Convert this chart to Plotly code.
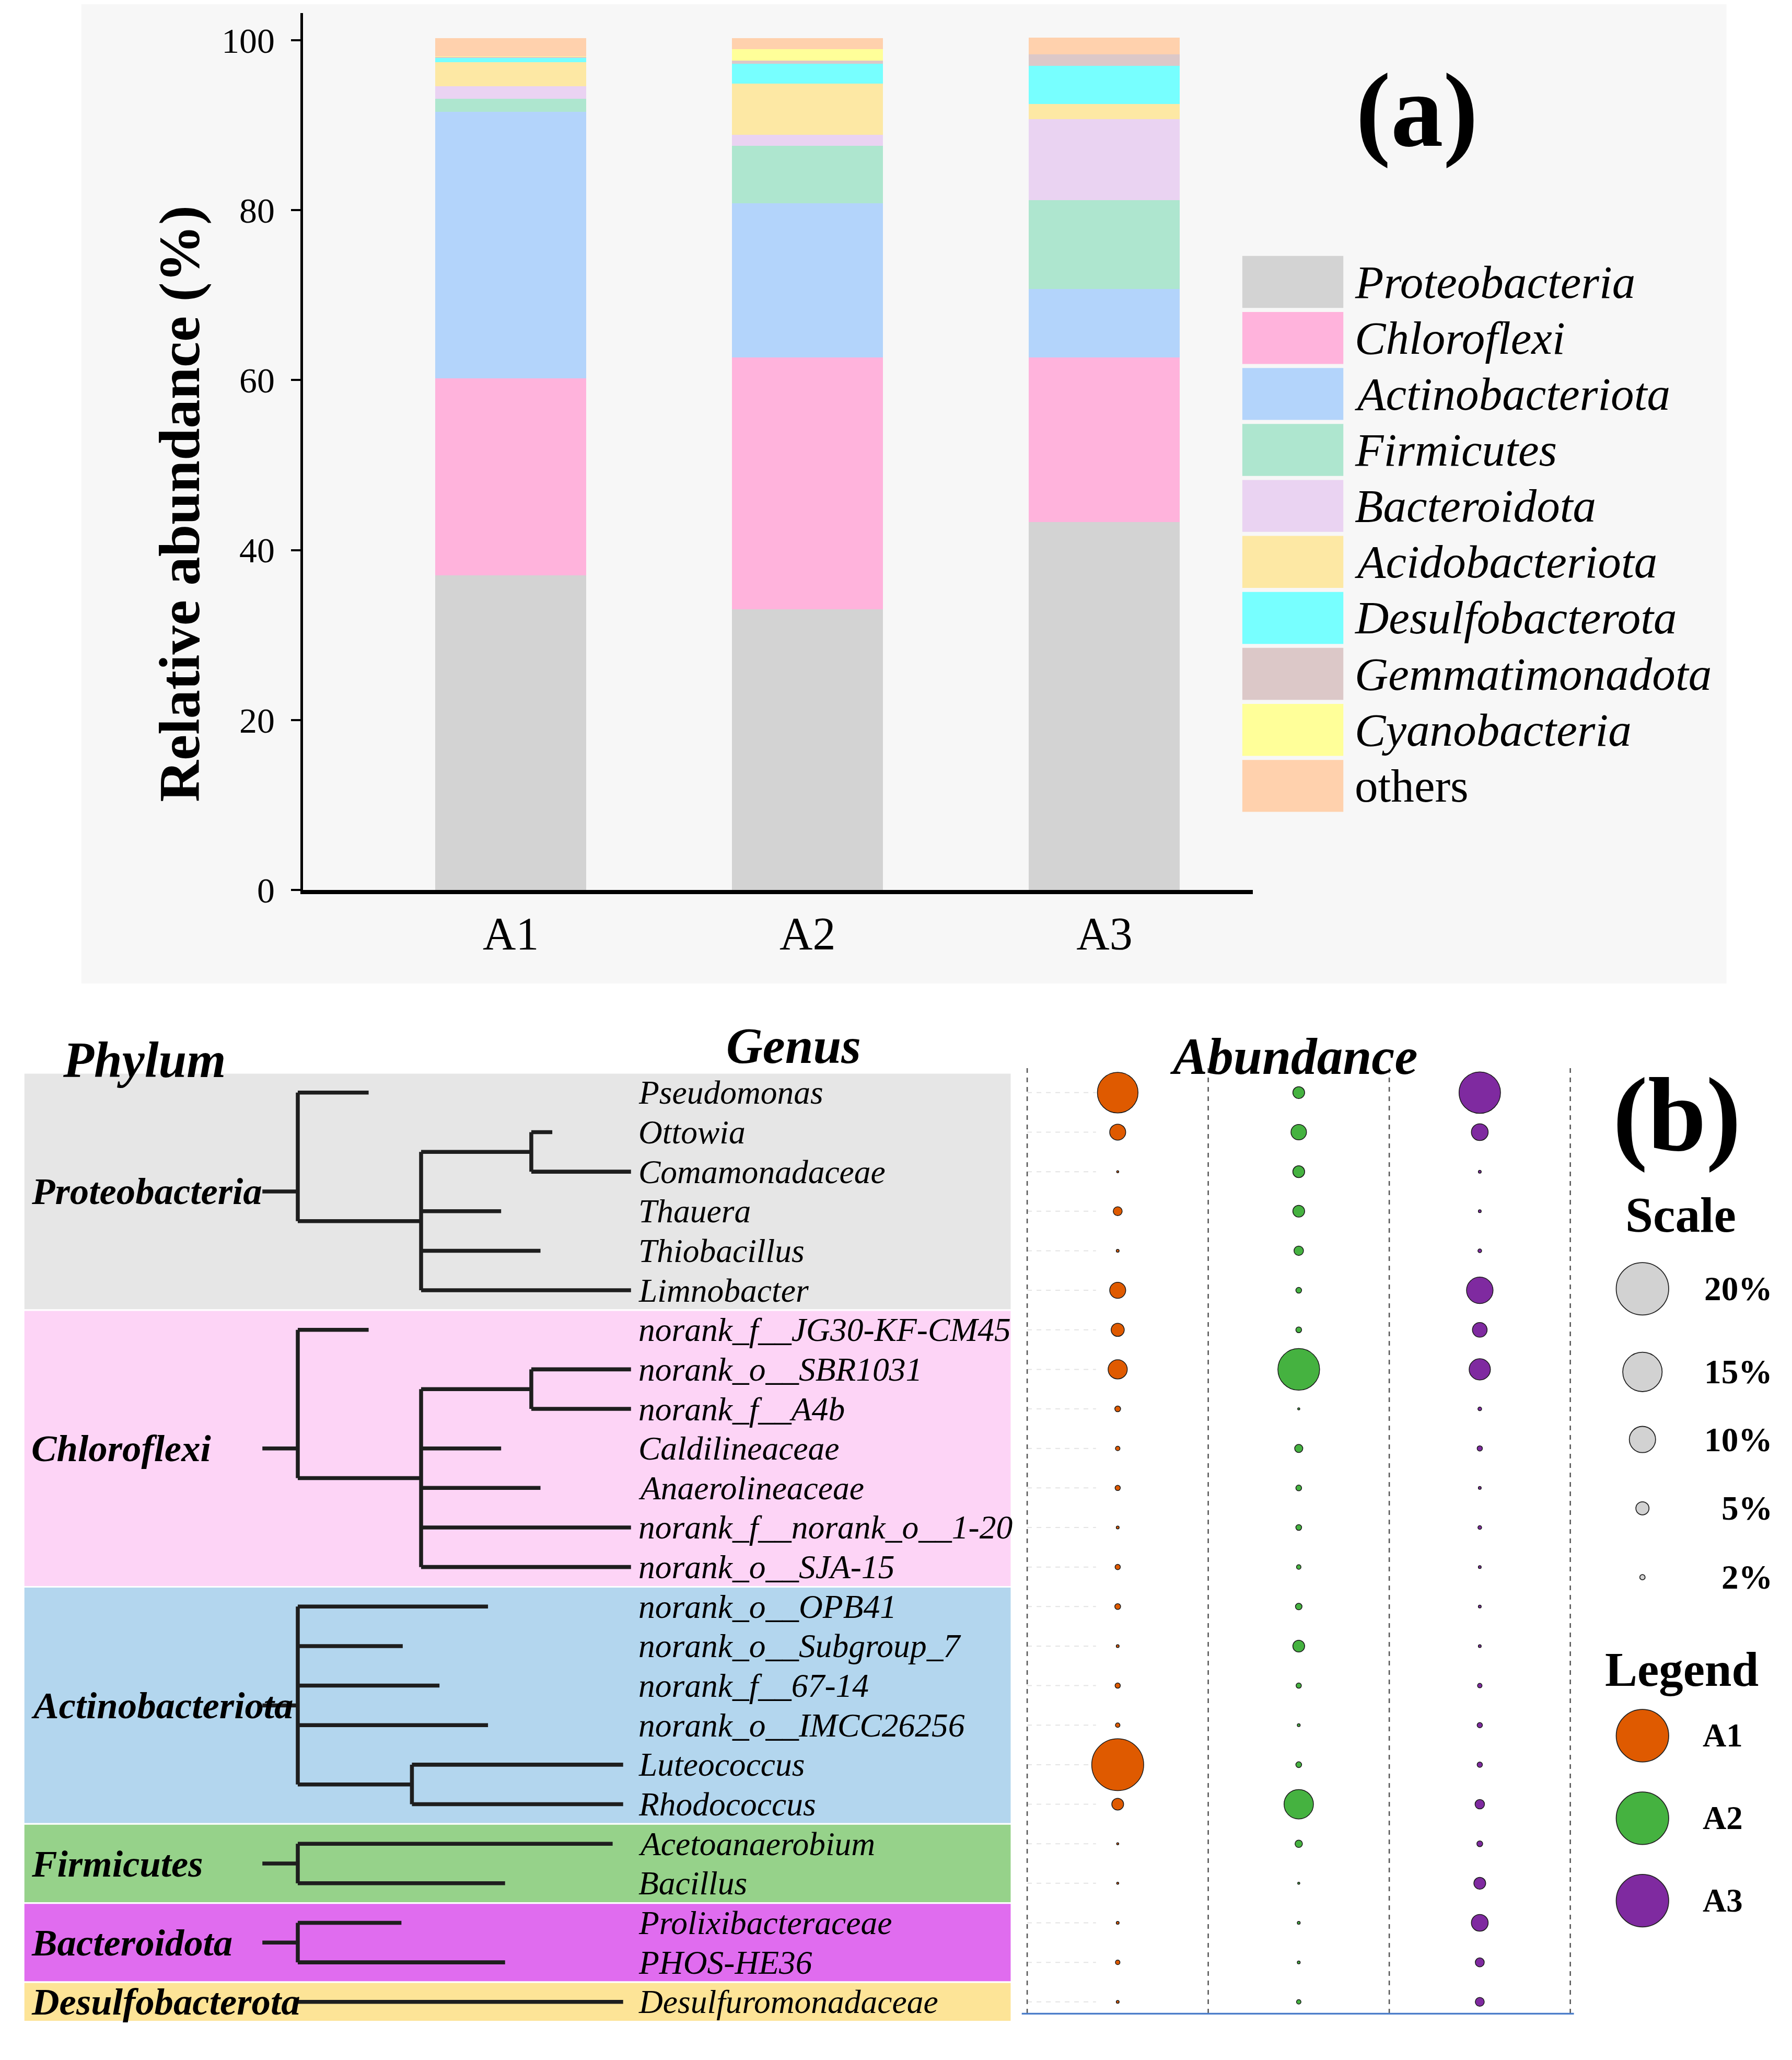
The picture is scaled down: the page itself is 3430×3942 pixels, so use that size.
import plotly.graph_objects as go

# ---------------- data : panel (a) ----------------
SAMPLES = ["A1", "A2", "A3"]
PHYLA = ["Proteobacteria", "Chloroflexi", "Actinobacteriota", "Firmicutes", "Bacteroidota",
         "Acidobacteriota", "Desulfobacterota", "Gemmatimonadota", "Cyanobacteria", "others"]
proteobacteria = [37.0, 33.0, 43.3]
chloroflexi = [23.2, 29.7, 19.4]
actinobacteriota = [31.4, 18.1, 8.0]
firmicutes = [1.5, 6.8, 10.5]
bacteroidota = [1.5, 1.3, 9.5]
acidobacteriota = [2.85, 6.0, 1.8]
desulfobacterota = [0.45, 2.35, 4.5]
gemmatimonadota = [0.15, 0.35, 1.33]
cyanobacteria = [0.05, 1.33, 0.0]
others = [2.15, 1.3, 2.0]
SERIES = [proteobacteria, chloroflexi, actinobacteriota, firmicutes, bacteroidota,
          acidobacteriota, desulfobacterota, gemmatimonadota, cyanobacteria, others]
Y_TICKS = [0, 20, 40, 60, 80, 100]

# ---------------- data : panel (b) ----------------
GENERA = ["Pseudomonas", "Ottowia", "Comamonadaceae", "Thauera", "Thiobacillus", "Limnobacter",
          "norank_f__JG30-KF-CM45", "norank_o__SBR1031", "norank_f__A4b", "Caldilineaceae",
          "Anaerolineaceae", "norank_f__norank_o__1-20", "norank_o__SJA-15",
          "norank_o__OPB41", "norank_o__Subgroup_7", "norank_f__67-14", "norank_o__IMCC26256",
          "Luteococcus", "Rhodococcus", "Acetoanaerobium", "Bacillus",
          "Prolixibacteraceae", "PHOS-HE36", "Desulfuromonadaceae"]
A1_ABUND = [15.5, 6.1, 0.8, 3.4, 1.1, 6.1, 5.0, 7.3, 2.2, 1.7, 2.0, 1.1, 2.0,
            2.2, 1.1, 2.0, 1.7, 19.8, 4.5, 0.8, 0.8, 1.1, 1.7, 1.1]
A2_ABUND = [4.5, 5.9, 4.5, 4.5, 3.6, 2.2, 2.2, 15.9, 0.8, 3.1, 2.2, 2.2, 1.7,
            2.5, 4.5, 2.0, 1.1, 2.2, 11.2, 2.8, 0.8, 1.1, 1.1, 1.7]
A3_ABUND = [15.8, 6.4, 1.1, 1.1, 1.4, 10.1, 5.6, 8.1, 1.4, 2.0, 1.1, 1.4, 1.1,
            1.1, 1.1, 1.7, 2.0, 2.0, 3.6, 2.2, 4.5, 6.4, 3.4, 3.4]
SCALE_PCT = [20, 15, 10, 5, 2]

# dendrogram per phylum: (child, branch length); child is a genus name or a list of children
TREES = [
    ("Proteobacteria", [("Pseudomonas", 54),
                        ([([("Ottowia", 16), ("Comamonadaceae", 76)], 84),
                          ("Thauera", 61), ("Thiobacillus", 91), ("Limnobacter", 160)], 94)]),
    ("Chloroflexi", [("norank_f__JG30-KF-CM45", 54),
                     ([([("norank_o__SBR1031", 76), ("norank_f__A4b", 76)], 84),
                       ("Caldilineaceae", 61), ("Anaerolineaceae", 91),
                       ("norank_f__norank_o__1-20", 160), ("norank_o__SJA-15", 160)], 94)]),
    ("Actinobacteriota", [("norank_o__OPB41", 145), ("norank_o__Subgroup_7", 80),
                          ("norank_f__67-14", 108), ("norank_o__IMCC26256", 145),
                          ([("Luteococcus", 161), ("Rhodococcus", 161)], 87)]),
    ("Firmicutes", [("Acetoanaerobium", 240), ("Bacillus", 158)]),
    ("Bacteroidota", [("Prolixibacteraceae", 79), ("PHOS-HE36", 158)]),
    ("Desulfobacterota", [("Desulfuromonadaceae", 248)]),
]

# ---------------- styles ----------------
BAR_COLORS = ["#d3d3d3", "#ffb3dc", "#b3d4fb", "#aee6cf", "#ead3f2",
              "#fde8a4", "#77ffff", "#dcc8c8", "#ffff99", "#ffd1ad"]
BAND_COLORS = {"Proteobacteria": "#e6e6e6", "Chloroflexi": "#fdd4f6", "Actinobacteriota": "#b3d6ee",
               "Firmicutes": "#96d28a", "Bacteroidota": "#e06cef", "Desulfobacterota": "#fde497"}
SAMPLE_COLORS = ["#df5a00", "#45b240", "#7f2aa0"]
FONT = "Liberation Serif"

WIN_W, WIN_H = 3430, 3942
OFF = 8                              # default body margin of the page
W, H = WIN_W - 2 * OFF, WIN_H - 2 * OFF
S = WIN_W / 1366.0                   # render px per design px
D_L, D_R = OFF / S, (OFF + W) / S    # design coords of figure edges
D_T, D_B = OFF / S, (OFF + H) / S
ROW_Y0, ROW_DY = 841.0, 30.43        # design y of first genus row, row pitch
COL0, COL_PITCH = 852.0, 138.0       # design x of first bubble column, column pitch


def X(p):
    return (p - D_L) / (D_R - D_L)


def Y(p):
    return 1 - (p - D_T) / (D_B - D_T)


def fs(v):
    return v * S


fig = go.Figure()

# ---------------- panel (a): stacked bars ----------------
for name, vals, col in zip(PHYLA, SERIES, BAR_COLORS):
    fig.add_trace(go.Bar(x=SAMPLES, y=vals, name=name, width=0.509,
                         marker=dict(color=col, line=dict(width=0)),
                         xaxis="x", yaxis="y", showlegend=False))

# ---------------- panel (b): dendrogram ----------------
row_of = {g: i for i, g in enumerate(GENERA)}
ROOT_X, STUB_X = 227.0, 200.0
seg_x, seg_y = [], []


def place(children, x):
    ys = []
    for item, length in children:
        cx = x + length
        if isinstance(item, str):
            y = row_of[item]
        else:
            y = place(item, cx)
        seg_x.extend([x, cx, None])
        seg_y.extend([y, y, None])
        ys.append(y)
    if len(ys) > 1:
        seg_x.extend([x, x, None])
        seg_y.extend([min(ys), max(ys), None])
    return (min(ys) + max(ys)) / 2.0


def leaves(children):
    out = []
    for item, _ in children:
        out.extend([item] if isinstance(item, str) else leaves(item))
    return out


shapes = []
annotations = []
band_x0, band_x1 = 18, 771
for phylum, children in TREES:
    lv = leaves(children)
    rows = [row_of[g] for g in lv]
    r0, r1 = min(rows), max(rows)
    place(children, ROOT_X)
    centre = (r0 + r1) / 2.0
    if len(lv) > 1:
        seg_x.extend([STUB_X, ROOT_X, None])
        seg_y.extend([centre, centre, None])
    shapes.append(dict(type="rect", xref="x2", yref="y3", x0=band_x0, x1=band_x1,
                       y0=r0 - 0.5, y1=r1 + 0.5, fillcolor=BAND_COLORS[phylum],
                       line=dict(color="white", width=3), layer="below"))
    annotations.append(dict(xref="x2", yref="y3", x=23, y=centre, text=f"<b><i>{phylum}</i></b>",
                            xanchor="left", yanchor="middle", showarrow=False,
                            font=dict(family=FONT, size=fs(29), color="black")))

fig.add_trace(go.Scatter(x=seg_x, y=seg_y, mode="lines", xaxis="x2", yaxis="y3",
                         line=dict(color="#1e1e1e", width=fs(3)), hoverinfo="skip",
                         showlegend=False))

for i, g in enumerate(GENERA):
    annotations.append(dict(xref="x2", yref="y3", x=486, y=i, text=f"<i>{g}</i>",
                            xanchor="left", yanchor="middle", showarrow=False,
                            font=dict(family=FONT, size=fs(25.3), color="black")))

# ---------------- panel (b): bubbles ----------------
SIZEREF = 1.0 / (2 * S)
n = len(GENERA)
gx, gy = [], []
for i in range(n):
    gx.extend([-0.5, -0.12, None])
    gy.extend([i, i, None])
fig.add_trace(go.Scatter(x=gx, y=gy, mode="lines", xaxis="x3", yaxis="y3",
                         line=dict(color="#e4e4e4", width=fs(0.8), dash="dash"),
                         hoverinfo="skip", showlegend=False))
vx, vy = [], []
for b in [-0.5, 0.5, 1.5, 2.5]:
    vx.extend([b, b, None])
    vy.extend([-0.62, 23.3, None])
fig.add_trace(go.Scatter(x=vx, y=vy, mode="lines", xaxis="x3", yaxis="y3",
                         line=dict(color="#555555", width=fs(1.0), dash="dash"),
                         hoverinfo="skip", showlegend=False))
fig.add_trace(go.Scatter(x=[-0.53, 2.52], y=[23.3, 23.3], mode="lines", xaxis="x3", yaxis="y3",
                         line=dict(color="#4a7cc9", width=fs(1.3)), hoverinfo="skip",
                         showlegend=False))

for k, (s, vals) in enumerate(zip(SAMPLES, [A1_ABUND, A2_ABUND, A3_ABUND])):
    fig.add_trace(go.Scatter(x=[k] * n, y=list(range(n)), mode="markers", xaxis="x3", yaxis="y3",
                             marker=dict(size=vals, sizemode="diameter", sizeref=SIZEREF,
                                         color=SAMPLE_COLORS[k], opacity=1,
                                         line=dict(color="#1a1a1a", width=fs(0.6))),
                             name=s, text=GENERA, showlegend=False))

# scale and legend circles (design canvas)
SCALE_Y = [992, 1056, 1108, 1161, 1214]
fig.add_trace(go.Scatter(x=[1252] * len(SCALE_PCT), y=SCALE_Y, mode="markers",
                         xaxis="x4", yaxis="y4",
                         marker=dict(size=SCALE_PCT, sizemode="diameter", sizeref=SIZEREF,
                                     color="#d2d2d2", opacity=1,
                                     line=dict(color="#222222", width=fs(0.7))),
                         showlegend=False, hoverinfo="skip"))
for p, yy in zip(SCALE_PCT, SCALE_Y):
    annotations.append(dict(xref="x4", yref="y4", x=1352, y=yy, text=f"<b>{p}%</b>",
                            xanchor="right", yanchor="middle", showarrow=False,
                            font=dict(family=FONT, size=fs(26), color="black")))
LEG_Y = [1336 + 63.5 * i for i in range(3)]
fig.add_trace(go.Scatter(x=[1252] * 3, y=LEG_Y, mode="markers", xaxis="x4", yaxis="y4",
                         marker=dict(size=[20] * 3, sizemode="diameter", sizeref=SIZEREF,
                                     color=SAMPLE_COLORS, opacity=1,
                                     line=dict(color="#222222", width=fs(0.7))),
                         showlegend=False, hoverinfo="skip"))
for s, yy in zip(SAMPLES, LEG_Y):
    annotations.append(dict(xref="x4", yref="y4", x=1297, y=yy, text=f"<b>{s}</b>",
                            xanchor="left", yanchor="middle", showarrow=False,
                            font=dict(family=FONT, size=fs(25), color="black")))

# ---------------- panel (a) legend ----------------
for i, (name, col) in enumerate(zip(PHYLA, BAR_COLORS)):
    yc = 217 + 43.1 * i
    shapes.append(dict(type="rect", xref="x4", yref="y4", x0=947, x1=1024, y0=yc - 20, y1=yc + 20,
                       fillcolor=col, line=dict(width=0)))
    txt = name if name == "others" else f"<i>{name}</i>"
    annotations.append(dict(xref="x4", yref="y4", x=1032, y=yc, text=txt, xanchor="left",
                            yanchor="middle", showarrow=False,
                            font=dict(family=FONT, size=fs(35.5), color="black")))

# panel (a) background
shapes.insert(0, dict(type="rect", xref="paper", yref="paper", x0=X(62), x1=X(1316), y0=Y(757),
                      y1=Y(0), fillcolor="#f7f7f7", line=dict(width=0), layer="below"))


def txt(x, y, t, size, **kw):
    d = dict(xref="x4", yref="y4", x=x, y=y, text=t, showarrow=False, xanchor="center",
             yanchor="middle", font=dict(family=FONT, size=fs(size), color="black"))
    d.update(kw)
    annotations.append(d)


txt(1080, 85, "<b>(a)</b>", 80)
txt(137, 388, "<b>Relative abundance (%)</b>", 44, textangle=-90)
txt(110, 816, "<b><i>Phylum</i></b>", 38.5)
txt(605, 805, "<b><i>Genus</i></b>", 38.5)
txt(986, 813, "<b><i>Abundance</i></b>", 39.5)
txt(1278, 858, "<b>(b)</b>", 80)
txt(1281, 935, "<b>Scale</b>", 38)
txt(1282, 1285, "<b>Legend</b>", 37)

# ---------------- axes ----------------
hidden = dict(visible=False, showgrid=False, zeroline=False, fixedrange=True)

fig.update_layout(
    width=W, height=H, margin=dict(l=0, r=0, t=0, b=0, pad=0),
    paper_bgcolor="white", plot_bgcolor="rgba(0,0,0,0)",
    barmode="stack", bargap=0, showlegend=False,
    font=dict(family=FONT, color="black"),
    xaxis=dict(domain=[X(231), X(955)], range=[-0.70, 2.50], type="category",
               showline=True, linecolor="black", linewidth=fs(3), ticks="",
               tickfont=dict(family=FONT, size=fs(35), color="black"),
               showgrid=False, zeroline=False, anchor="y"),
    yaxis=dict(domain=[Y(685), Y(10)], range=[0, 103.2], tickvals=Y_TICKS,
               ticks="outside", ticklen=fs(7), tickwidth=fs(1.5), tickcolor="black",
               ticklabelstandoff=int(round(fs(7))),
               showline=True, linecolor="black", linewidth=fs(2),
               tickfont=dict(family=FONT, size=fs(27), color="black"),
               showgrid=False, zeroline=False, anchor="x"),
    xaxis2=dict(domain=[0, 1], range=[D_L, D_R], anchor="y3", **hidden),
    yaxis3=dict(domain=[0, 1], range=[(D_B - ROW_Y0) / ROW_DY, (D_T - ROW_Y0) / ROW_DY],
                anchor="x2", **hidden),
    xaxis3=dict(domain=[0, 1], range=[(D_L - COL0) / COL_PITCH, (D_R - COL0) / COL_PITCH],
                anchor="y3", **hidden),
    xaxis4=dict(domain=[0, 1], range=[D_L, D_R], anchor="y4", **hidden),
    yaxis4=dict(domain=[0, 1], range=[D_B, D_T], anchor="x4", **hidden),
    shapes=shapes, annotations=annotations,
)

fig.write_html("out.html")
